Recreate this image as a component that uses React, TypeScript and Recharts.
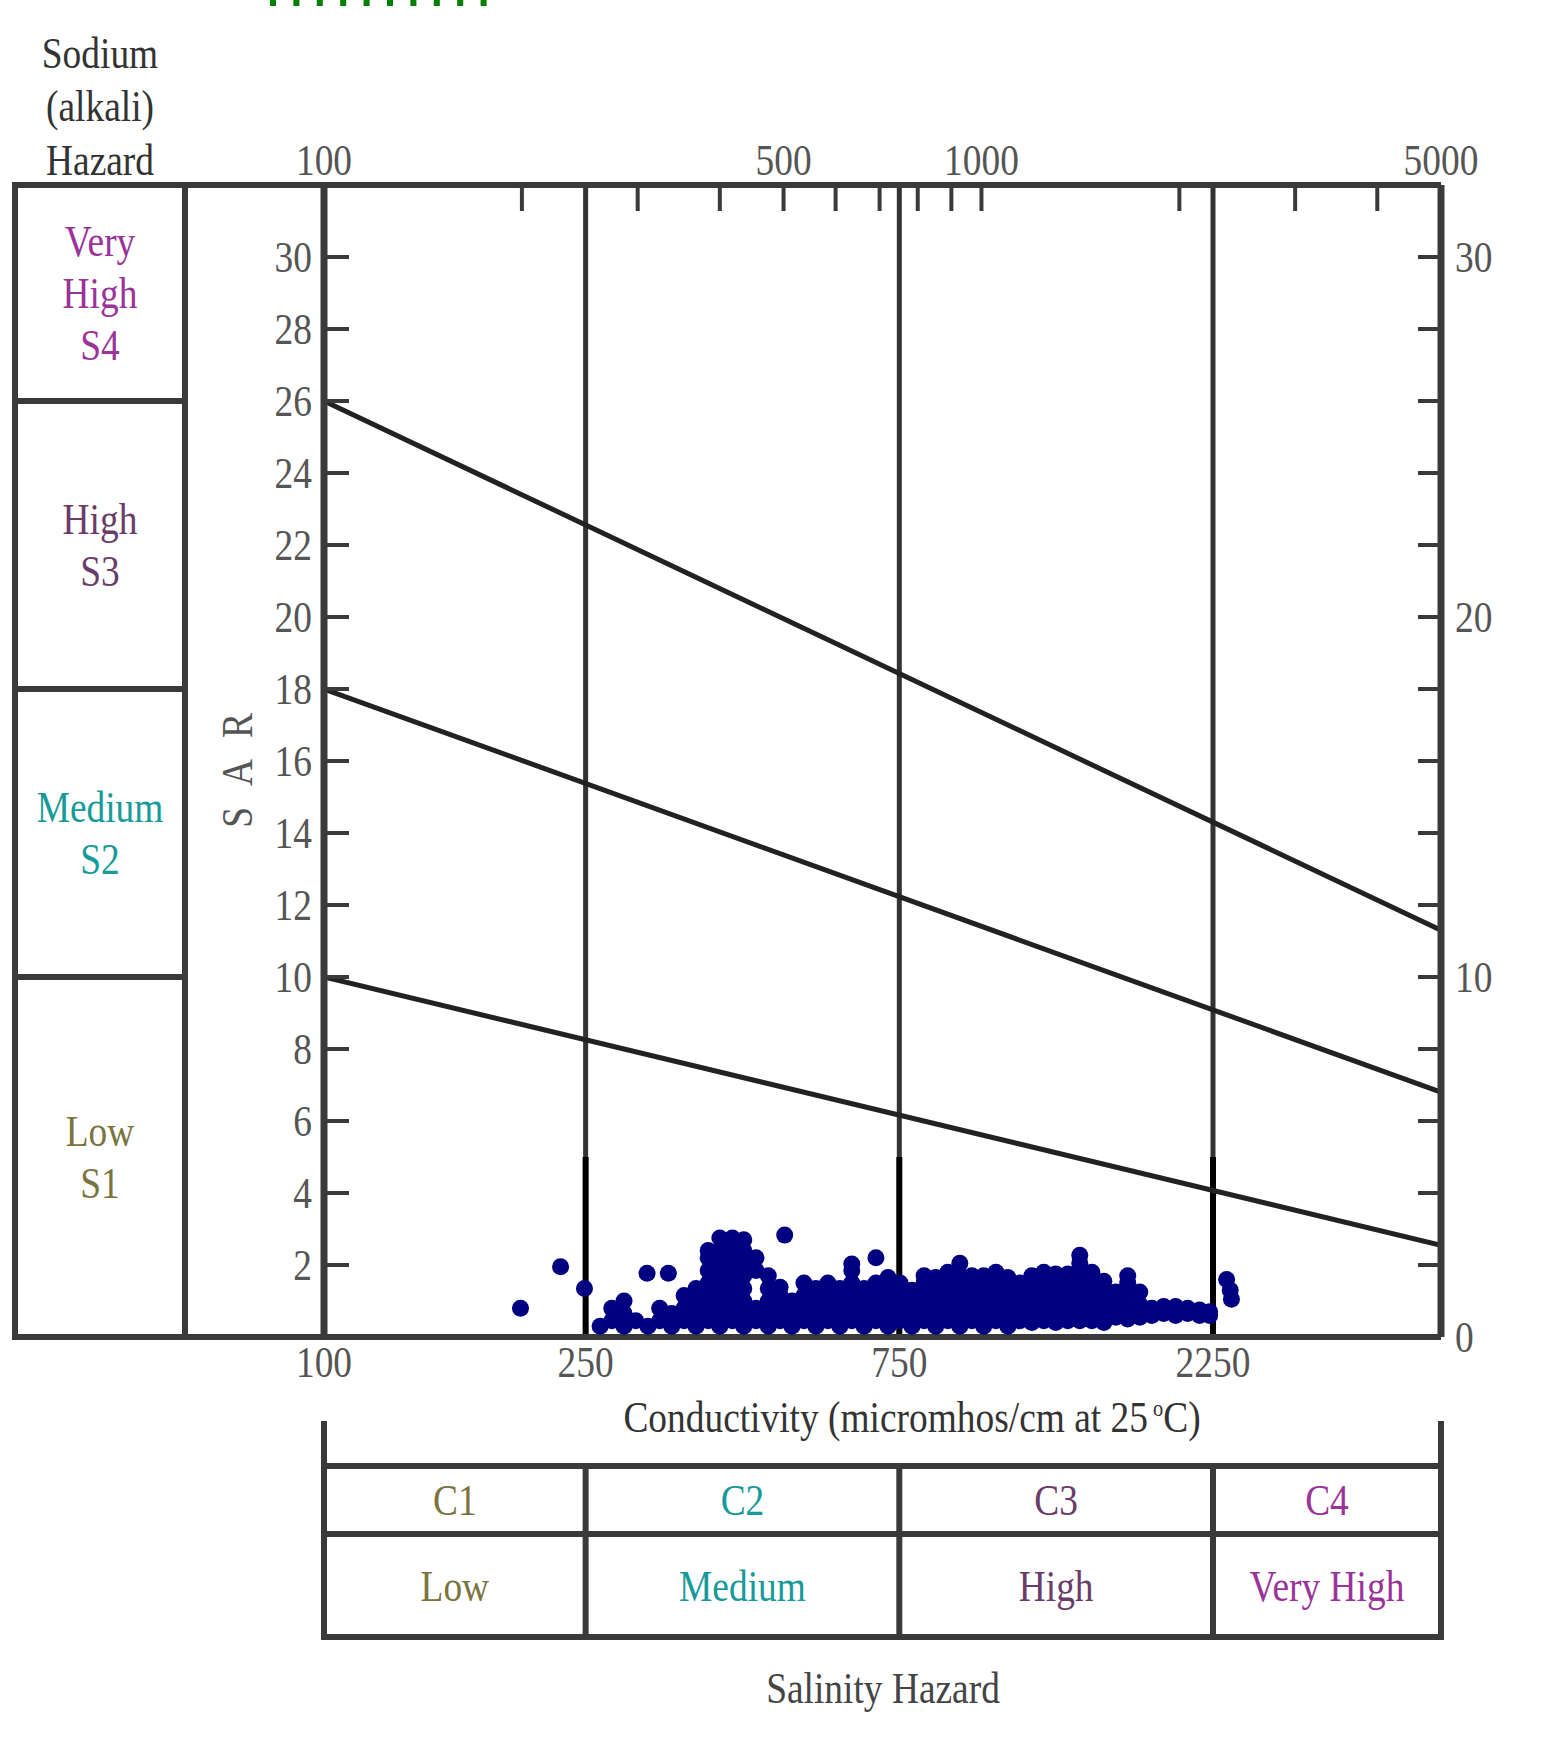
import React from 'react';
import { ComposedChart, Scatter, Line, XAxis, YAxis, ReferenceLine } from 'recharts';

/* USSL-style salinity / sodium hazard diagram (SAR vs conductivity) */

const W = 1547;
const H = 1761;
const MARGIN = { top: 145, right: 46, bottom: 384, left: 264 };
const AXIS_H = 40;
const AXIS_W = 60;
const PLOT = { left: 324, right: 1441, top: 185, bottom: 1337 };

const FONT = '"Liberation Serif", "Times New Roman", serif';
const SQUEEZE = 0.85;
const FS = 44;
const GAP = 12;
const LINE_COLOR = '#3a3a3a';
const TICK_TEXT = '#555';

// axes
const EC_DOMAIN: [number, number] = [100, 5000];
const SAR_DOMAIN: [number, number] = [0, 32];
const bottomTicks = [100, 250, 750, 2250];
const topTicks = [100, 200, 300, 400, 500, 600, 700, 800, 900, 1000, 2000, 3000, 4000, 5000];
const topLabels = [100, 500, 1000, 5000];
const leftTicks = [2, 4, 6, 8, 10, 12, 14, 16, 18, 20, 22, 24, 26, 28, 30];
const rightTicks = [0, 2, 4, 6, 8, 10, 12, 14, 16, 18, 20, 22, 24, 26, 28, 30];
const rightLabels = [0, 10, 20, 30];

// hazard class boundaries
const boundaryEc = [100, 5000];
const s1s2Sar = [10, 2.55];
const s2s3Sar = [18, 6.8];
const s3s4Sar = [26, 11.3];
const classEc = [250, 750, 2250];
const classStubSar = [0, 5];

// water samples
const sampleEc = [
  263, 274, 286, 298, 311, 324, 338, 353, 368, 384, 400, 418, 435, 454, 474, 494, 515, 537,
  560, 584, 609, 635, 663, 691, 721, 752, 784, 818, 852, 889, 927, 967, 1008, 1052, 1097,
  1144, 1193, 1244, 1297, 1353, 1411, 1472, 1535, 1601, 1669, 1741, 1816, 1893, 1974, 2059,
  2147, 2224,
];
const sampleSar: number[][] = [
  [0.3], [0.45, 0.8], [0.3, 0.65, 1.0], [0.45], [0.3], [0.45, 0.8], [0.3, 0.65],
  [0.45, 0.8, 1.15], [0.3, 0.65, 1.0, 1.35], [0.45, 0.8, 1.15, 1.5, 1.85, 2.2, 2.4],
  [0.3, 0.65, 1.0, 1.35, 1.7, 2.05, 2.4, 2.75], [0.45, 0.8, 1.15, 1.5, 1.85, 2.2, 2.55, 2.75],
  [0.3, 0.65, 1.0, 1.35, 1.7, 2.05, 2.4, 2.7], [0.45, 0.8, 1.85, 2.2],
  [0.3, 0.65, 1.0, 1.35, 1.7], [0.45, 0.8, 1.15, 1.38], [0.3, 0.65, 1.0],
  [0.45, 0.8, 1.15, 1.5], [0.3, 0.65, 1.0, 1.35], [0.45, 0.8, 1.15, 1.5],
  [0.3, 0.65, 1.0, 1.35], [0.45, 0.8, 1.15, 1.5, 1.85, 2.03], [0.3, 0.65, 1.0, 1.35],
  [0.45, 0.8, 1.15, 1.5, 2.2], [0.3, 0.65, 1.0, 1.35, 1.65], [0.45, 0.8, 1.15, 1.5],
  [0.3, 0.65, 1.0, 1.3], [0.45, 0.8, 1.15, 1.5, 1.7], [0.3, 0.65, 1.0, 1.35, 1.65],
  [0.45, 0.8, 1.15, 1.5, 1.8], [0.3, 0.65, 1.0, 1.35, 1.7, 2.05], [0.45, 0.8, 1.15, 1.5, 1.7],
  [0.3, 0.65, 1.0, 1.35, 1.7], [0.45, 0.8, 1.15, 1.5, 1.8], [0.3, 0.65, 1.0, 1.35, 1.65],
  [0.45, 0.8, 1.15, 1.5], [0.4, 0.65, 1.0, 1.35, 1.7], [0.45, 0.8, 1.15, 1.5, 1.8],
  [0.4, 0.65, 1.0, 1.35, 1.75], [0.45, 0.8, 1.15, 1.5, 1.75],
  [0.45, 0.65, 1.0, 1.35, 1.7, 2.05, 2.27], [0.45, 0.8, 1.15, 1.5, 1.8],
  [0.4, 0.7, 1.0, 1.35, 1.55], [0.55, 0.9, 1.25], [0.5, 0.85, 1.2, 1.5, 1.7], [0.55, 0.9, 1.25],
  [0.6, 0.8], [0.65, 0.85], [0.6, 0.85], [0.65, 0.8], [0.6, 0.75], [0.6, 0.7],
];
const outlierEc = [199, 229, 249, 310, 334, 502, 2360, 2390, 2400];
const outlierSar = [0.8, 1.95, 1.35, 1.77, 1.77, 2.83, 1.6, 1.3, 1.05];

// hazard tables
const sodiumBreaks = [0, 10, 18, 26, 32];
const sodiumLabels = [['Low', 'S1'], ['Medium', 'S2'], ['High', 'S3'], ['Very', 'High', 'S4']];
const salinityBreaks = [100, 250, 750, 2250, 5000];
const salinityCodes = ['C1', 'C2', 'C3', 'C4'];
const salinityNames = ['Low', 'Medium', 'High', 'Very High'];
const hazardColors = ['#7a7440', '#179a9a', '#6a3c6a', '#9a339a'];

const samples = sampleEc
  .flatMap((ec, i) => sampleSar[i].map((sar) => ({ ec, sar })))
  .concat(outlierEc.map((ec, i) => ({ ec, sar: outlierSar[i] })));

const lineData = (sars: number[]) => boundaryEc.map((ec, i) => ({ ec, sar: sars[i] }));

// pixel helpers for the tables drawn round the plot
const xOf = (ec: number) =>
  PLOT.left + (Math.log10(ec / EC_DOMAIN[0]) / Math.log10(EC_DOMAIN[1] / EC_DOMAIN[0])) * (PLOT.right - PLOT.left);
const yOf = (s: number) =>
  PLOT.bottom - ((s - SAR_DOMAIN[0]) / (SAR_DOMAIN[1] - SAR_DOMAIN[0])) * (PLOT.bottom - PLOT.top);

const SText = ({ x, y, anchor = 'middle', color = '#333', rotate = 0, spacing = 0, children }: any) => (
  <text
    transform={`translate(${x},${y}) rotate(${rotate}) scale(${SQUEEZE},1)`}
    textAnchor={anchor}
    fontSize={FS}
    fontFamily={FONT}
    fill={color}
    letterSpacing={spacing}
  >
    {children}
  </text>
);

const LeftTick = (p: any) => (
  <g>
    <line x1={p.x + GAP} x2={p.x + GAP + 25} y1={p.y} y2={p.y} stroke={LINE_COLOR} strokeWidth={4} />
    <SText x={p.x} y={p.y + 15} anchor="end" color={TICK_TEXT}>{p.payload.value}</SText>
  </g>
);

const RightTick = (p: any) => (
  <g>
    {p.payload.value !== 0 && (
      <line x1={p.x - GAP} x2={p.x - GAP - 23} y1={p.y} y2={p.y} stroke={LINE_COLOR} strokeWidth={4} />
    )}
    {rightLabels.includes(p.payload.value) && (
      <SText x={p.x + 2} y={p.y + 15} anchor="start" color={TICK_TEXT}>{p.payload.value}</SText>
    )}
  </g>
);

const TopTick = (p: any) => (
  <g>
    <line x1={p.x} x2={p.x} y1={p.y + GAP} y2={p.y + GAP + 26} stroke={LINE_COLOR} strokeWidth={4} />
    {topLabels.includes(p.payload.value) && (
      <SText x={p.x} y={p.y + 2} color={TICK_TEXT}>{p.payload.value}</SText>
    )}
  </g>
);

const BottomTick = (p: any) => (
  <SText x={p.x} y={p.y + 28} color={TICK_TEXT}>{p.payload.value}</SText>
);

const Dot = (p: any) => <circle cx={p.cx} cy={p.cy} r={8.5} fill="#000080" />;

const Overlay = () => {
  const tableTop = 1421;
  const row1 = 1466;
  const row2 = 1534;
  const row3 = 1637;
  return (
    <svg width={W} height={H} style={{ position: 'absolute', left: 0, top: 0, pointerEvents: 'none' }}>
      <line x1={270} x2={490} y1={3} y2={3} stroke="#008000" strokeWidth={6} strokeDasharray="6 17.4" />

      <SText x={100} y={68}>Sodium</SText>
      <SText x={100} y={121}>(alkali)</SText>
      <SText x={100} y={175}>Hazard</SText>

      {/* sodium hazard column */}
      <g stroke={LINE_COLOR} strokeWidth={6}>
        <line x1={15} x2={15} y1={PLOT.top} y2={PLOT.bottom} />
        <line x1={185} x2={185} y1={PLOT.top} y2={PLOT.bottom} />
        <line x1={12} x2={PLOT.left} y1={PLOT.top} y2={PLOT.top} />
        <line x1={12} x2={PLOT.left} y1={PLOT.bottom} y2={PLOT.bottom} />
        {sodiumBreaks.slice(1, -1).map((s) => (
          <line key={s} x1={15} x2={185} y1={yOf(s)} y2={yOf(s)} />
        ))}
      </g>
      {sodiumLabels.map((lines, i) => {
        const mid = (yOf(sodiumBreaks[i]) + yOf(sodiumBreaks[i + 1])) / 2;
        return lines.map((t, j) => (
          <SText key={`${i}-${j}`} x={100} y={mid + (j - (lines.length - 1) / 2) * 52 + 15} color={hazardColors[i]}>
            {t}
          </SText>
        ));
      })}

      <SText x={252} y={767} rotate={-90} color="#555" spacing={8}>S A R</SText>

      <SText x={912} y={1432}>
        Conductivity (micromhos/cm at 25
        <tspan fontSize={24} dy={-16} dx={6}>o</tspan>
        <tspan dy={16}>C)</tspan>
      </SText>

      {/* salinity hazard table */}
      <g stroke={LINE_COLOR} strokeWidth={6}>
        <line x1={PLOT.left} x2={PLOT.left} y1={tableTop} y2={row3 + 3} />
        <line x1={PLOT.right} x2={PLOT.right} y1={tableTop} y2={row3 + 3} />
        {[row1, row2, row3].map((y) => (
          <line key={y} x1={PLOT.left} x2={PLOT.right} y1={y} y2={y} />
        ))}
        {salinityBreaks.slice(1, -1).map((ec) => (
          <line key={ec} x1={xOf(ec)} x2={xOf(ec)} y1={row1} y2={row3} />
        ))}
      </g>
      {salinityCodes.map((c, i) => {
        const cx = (xOf(salinityBreaks[i]) + xOf(salinityBreaks[i + 1])) / 2;
        return (
          <g key={c}>
            <SText x={cx} y={(row1 + row2) / 2 + 15} color={hazardColors[i]}>{c}</SText>
            <SText x={cx} y={(row2 + row3) / 2 + 15} color={hazardColors[i]}>{salinityNames[i]}</SText>
          </g>
        );
      })}

      <SText x={883} y={1703} color="#444">Salinity Hazard</SText>
    </svg>
  );
};

export default function App() {
  return (
    <div style={{ position: 'absolute', left: 0, top: 0, width: W, height: H, background: '#fff' }}>
      <div style={{ position: 'absolute', left: 0, top: 0 }}>
        <ComposedChart width={W} height={H} margin={MARGIN}>
          <XAxis
            xAxisId="bottom"
            orientation="bottom"
            dataKey="ec"
            type="number"
            scale="log"
            domain={EC_DOMAIN}
            allowDataOverflow
            ticks={bottomTicks}
            interval={0}
            height={AXIS_H}
            tickSize={0}
            tickMargin={GAP}
            tick={BottomTick}
            axisLine={{ stroke: LINE_COLOR, strokeWidth: 6 }}
            tickLine={false}
          />
          <XAxis
            xAxisId="top"
            orientation="top"
            dataKey="ec"
            type="number"
            scale="log"
            domain={EC_DOMAIN}
            allowDataOverflow
            ticks={topTicks}
            interval={0}
            height={AXIS_H}
            tickSize={0}
            tickMargin={GAP}
            tick={TopTick}
            axisLine={{ stroke: LINE_COLOR, strokeWidth: 6 }}
            tickLine={false}
          />
          <YAxis
            yAxisId="left"
            orientation="left"
            dataKey="sar"
            type="number"
            domain={SAR_DOMAIN}
            allowDataOverflow
            ticks={leftTicks}
            interval={0}
            width={AXIS_W}
            tickSize={0}
            tickMargin={GAP}
            tick={LeftTick}
            axisLine={{ stroke: LINE_COLOR, strokeWidth: 7 }}
            tickLine={false}
          />
          <YAxis
            yAxisId="right"
            orientation="right"
            dataKey="sar"
            type="number"
            domain={SAR_DOMAIN}
            allowDataOverflow
            ticks={rightTicks}
            interval={0}
            width={AXIS_W}
            tickSize={0}
            tickMargin={GAP}
            tick={RightTick}
            axisLine={{ stroke: LINE_COLOR, strokeWidth: 7 }}
            tickLine={false}
          />

          <Scatter
            data={samples}
            xAxisId="bottom"
            yAxisId="left"
            shape={Dot}
            isAnimationActive={false}
          />

          {classEc.map((ec) => (
            <ReferenceLine key={ec} x={ec} xAxisId="bottom" yAxisId="left" stroke="#333" strokeWidth={5} />
          ))}
          {classEc.map((ec) => (
            <ReferenceLine
              key={`stub-${ec}`}
              xAxisId="bottom"
              yAxisId="left"
              segment={classStubSar.map((s) => ({ x: ec, y: s }))}
              stroke="#000"
              strokeWidth={6}
            />
          ))}

          <Line data={lineData(s1s2Sar)} dataKey="sar" xAxisId="bottom" yAxisId="left" type="linear"
            stroke="#222" strokeWidth={5} dot={false} isAnimationActive={false} />
          <Line data={lineData(s2s3Sar)} dataKey="sar" xAxisId="bottom" yAxisId="left" type="linear"
            stroke="#222" strokeWidth={5} dot={false} isAnimationActive={false} />
          <Line data={lineData(s3s4Sar)} dataKey="sar" xAxisId="top" yAxisId="right" type="linear"
            stroke="#222" strokeWidth={5} dot={false} isAnimationActive={false} />
        </ComposedChart>
      </div>
      <Overlay />
    </div>
  );
}
